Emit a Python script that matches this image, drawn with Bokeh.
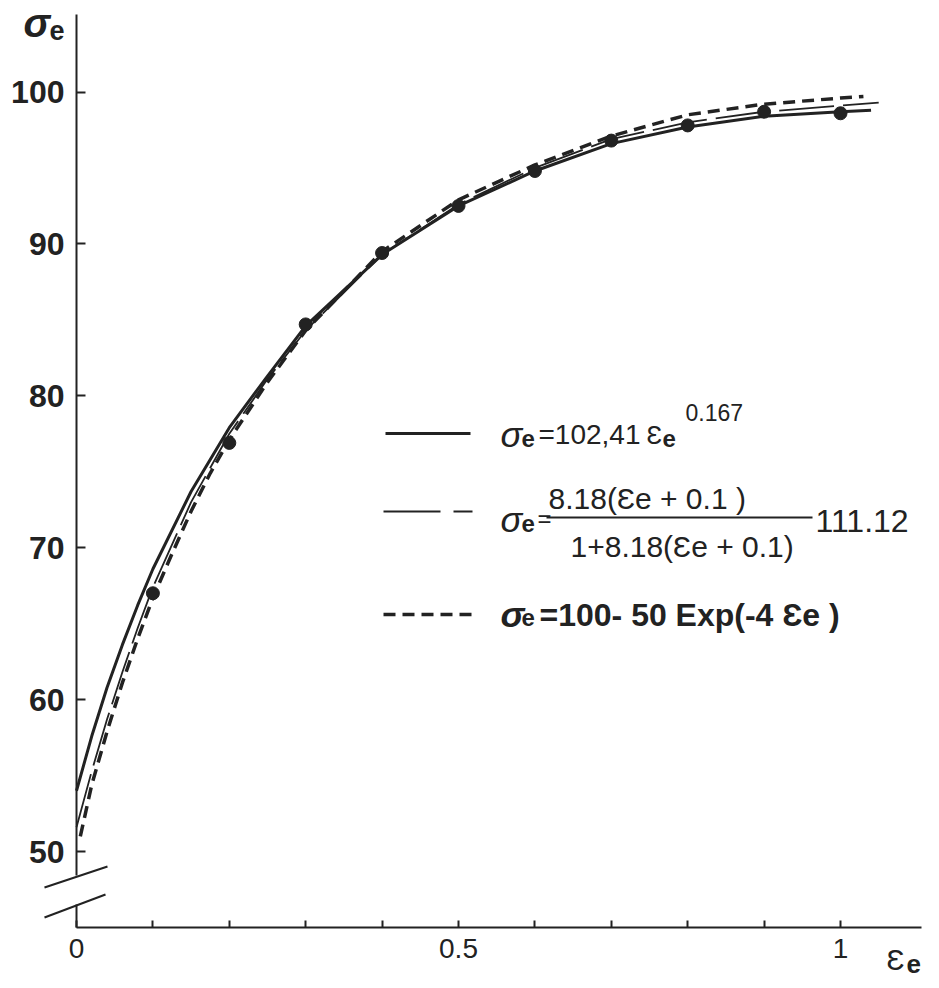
from bokeh.plotting import figure
from bokeh.models import Range1d, FixedTicker, Label, LinearAxis, CustomJSTickFormatter
from bokeh.embed import file_html
from bokeh.resources import INLINE

# ---------------- data ----------------
strain_pts = [0.1, 0.2, 0.3, 0.4, 0.5, 0.6, 0.7, 0.8, 0.9, 1.0]
stress_pts = [67.0, 76.9, 84.7, 89.4, 92.5, 94.8, 96.8, 97.8, 98.7, 98.6]

power_x = [0.0, 0.02, 0.04, 0.06, 0.08, 0.1, 0.15, 0.2, 0.25, 0.3, 0.4, 0.5, 0.6, 0.7, 0.8, 0.9, 1.0, 1.04]
power_y = [54.0, 57.6, 60.8, 63.6, 66.2, 68.6, 73.7, 77.9, 81.3, 84.6, 89.3, 92.5, 94.8, 96.6, 97.7, 98.4, 98.7, 98.8]

hyper_x = [0.0, 0.02, 0.04, 0.06, 0.08, 0.1, 0.15, 0.2, 0.25, 0.3, 0.4, 0.5, 0.6, 0.7, 0.8, 0.9, 1.0, 1.05]
hyper_y = [51.6, 55.3, 58.7, 61.8, 64.7, 67.4, 73.0, 77.5, 81.1, 84.3, 89.3, 92.6, 95.0, 96.9, 98.0, 98.7, 99.1, 99.3]

exp_x = [0.005, 0.02, 0.04, 0.06, 0.08, 0.1, 0.125, 0.15, 0.175, 0.2, 0.25, 0.3, 0.4, 0.5, 0.6, 0.7, 0.8, 0.9, 1.0, 1.03]
exp_y = [51.0, 54.4, 57.9, 61.1, 64.0, 66.7, 69.6, 72.4, 74.9, 77.1, 80.9, 84.3, 89.5, 92.9, 95.2, 97.1, 98.5, 99.2, 99.6, 99.7]

y_ticks = [50, 60, 70, 80, 90, 100]
x_major = [0, 0.5, 1]
x_minor = [0.1, 0.2, 0.3, 0.4, 0.6, 0.7, 0.8, 0.9]

# ---------------- layout helpers ----------------
W, H = 939, 988
XSCALE = 764.0     # px per unit of strain
YSCALE = 15.19     # px per unit of stress
ORIGIN_X = 76      # px of strain 0
Y100 = 91.5        # px of stress 100

def px(xp):
    return (xp - ORIGIN_X) / XSCALE

def py(yp):
    return 100 - (yp - Y100) / YSCALE

X_AXIS_END = 1.106
Y_AXIS_BOTTOM = 45.0
Y_AXIS_TOP = 105.1

INK = "#222222"
FONT = "Liberation Sans"
EPS = "\u0190"   # open E, as drawn in the figure

p = figure(width=W, height=H, x_range=Range1d(px(0), px(W)), y_range=Range1d(py(H), py(0)),
           output_backend="svg", toolbar_location=None,
           x_axis_type=None, y_axis_type=None, min_border=0)
p.outline_line_color = None
p.background_fill_color = "white"
p.border_fill_color = "white"

xaxis = LinearAxis(ticker=FixedTicker(ticks=x_major, minor_ticks=x_minor),
                   formatter=CustomJSTickFormatter(code="return tick.toString();"),
                   fixed_location=Y_AXIS_BOTTOM, bounds=(0, X_AXIS_END))
xaxis.axis_line_width = 2
xaxis.axis_line_color = INK
xaxis.major_tick_in = 7
xaxis.major_tick_out = 0
xaxis.minor_tick_in = 7
xaxis.minor_tick_out = 0
xaxis.major_tick_line_color = INK
xaxis.minor_tick_line_color = INK
xaxis.major_tick_line_width = 2
xaxis.minor_tick_line_width = 2
xaxis.major_label_text_font = FONT
xaxis.major_label_text_font_size = "28px"
xaxis.major_label_text_color = INK
xaxis.major_label_standoff = 12
p.add_layout(xaxis, "below")

yaxis = LinearAxis(ticker=FixedTicker(ticks=y_ticks, minor_ticks=[]),
                   fixed_location=0, bounds=(48.4, Y_AXIS_TOP))
yaxis.axis_line_width = 2
yaxis.axis_line_color = INK
yaxis.major_tick_in = 9
yaxis.major_tick_out = 0
yaxis.minor_tick_line_color = None
yaxis.major_tick_line_color = INK
yaxis.major_tick_line_width = 2
yaxis.major_label_text_font = FONT
yaxis.major_label_text_font_style = "bold"
yaxis.major_label_text_font_size = "32px"
yaxis.major_label_text_color = INK
yaxis.major_label_standoff = 12
p.add_layout(yaxis, "left")

# axis break marks and the short stub of the y axis below the break
p.segment(x0=[px(44), px(44)], y0=[py(887), py(917)], x1=[px(107), px(105)], y1=[py(866), py(894)],
          line_color=INK, line_width=2)
p.segment(x0=[0], y0=[py(904)], x1=[0], y1=[Y_AXIS_BOTTOM], line_color=INK, line_width=2)

# ---------------- curves ----------------
p.line(hyper_x, hyper_y, line_color=INK, line_width=1.8, line_dash="55 9")
p.line(exp_x, exp_y, line_color=INK, line_width=3.5, line_dash="12 7")
p.line(power_x, power_y, line_color=INK, line_width=3)
p.scatter(strain_pts, stress_pts, size=13, fill_color=INK, line_color=INK)

# ---------------- legend ----------------
p.line([px(385), px(470)], [py(433), py(433)], line_color=INK, line_width=3)
p.line([px(383), px(472)], [py(511), py(511)], line_color=INK, line_width=1.8, line_dash="57 13")
p.line([px(383), px(472)], [py(614), py(614)], line_color=INK, line_width=3.5, line_dash="12 7")
# fraction bar
p.line([px(546), px(812)], [py(517), py(517)], line_color=INK, line_width=2)

def txt(x, y, s, size, style="normal", align="left", baseline="alphabetic"):
    p.add_layout(Label(x=px(x), y=py(y), text=s, text_font=FONT, text_font_size=f"{size}px",
                       text_font_style=style, text_color=INK, text_align=align,
                       text_baseline=baseline))

DY = -11  # vertical correction for text placement

# axis titles
txt(23, 33 + DY, "σ", 40, "bold italic")
txt(49, 41 + DY, "e", 27, "bold")
txt(886, 970 + DY, EPS, 30)
txt(906, 974 + DY, "e", 26, "bold")

# legend row 1
txt(500, 445 + DY, "σ", 36, "italic")
txt(521, 449 + DY, "e", 24, "bold")
txt(538, 445 + DY, "=102,41", 28)
txt(646, 445 + DY, EPS, 26)
txt(662, 449 + DY, "e", 24, "bold")
txt(685, 423 + DY, "0.167", 23)

# legend row 2
txt(500, 530 + DY, "σ", 36, "italic")
txt(521, 534 + DY, "e", 24, "bold")
txt(537, 529 + DY, "=", 24)
txt(548, 509 + DY, "8.18(" + EPS + "e + 0.1 )", 30)
txt(570, 557 + DY, "1+8.18(" + EPS + "e + 0.1)", 30)
txt(815, 531 + DY, "111.12", 32)

# legend row 3
txt(500, 625 + DY, "σ", 36, "bold italic")
txt(521, 628 + DY, "e", 24, "bold")
txt(539, 625 + DY, "=100- 50 Exp(-4 " + EPS + "e )", 32, "bold")

open("out.html", "w").write(file_html(p, INLINE))
